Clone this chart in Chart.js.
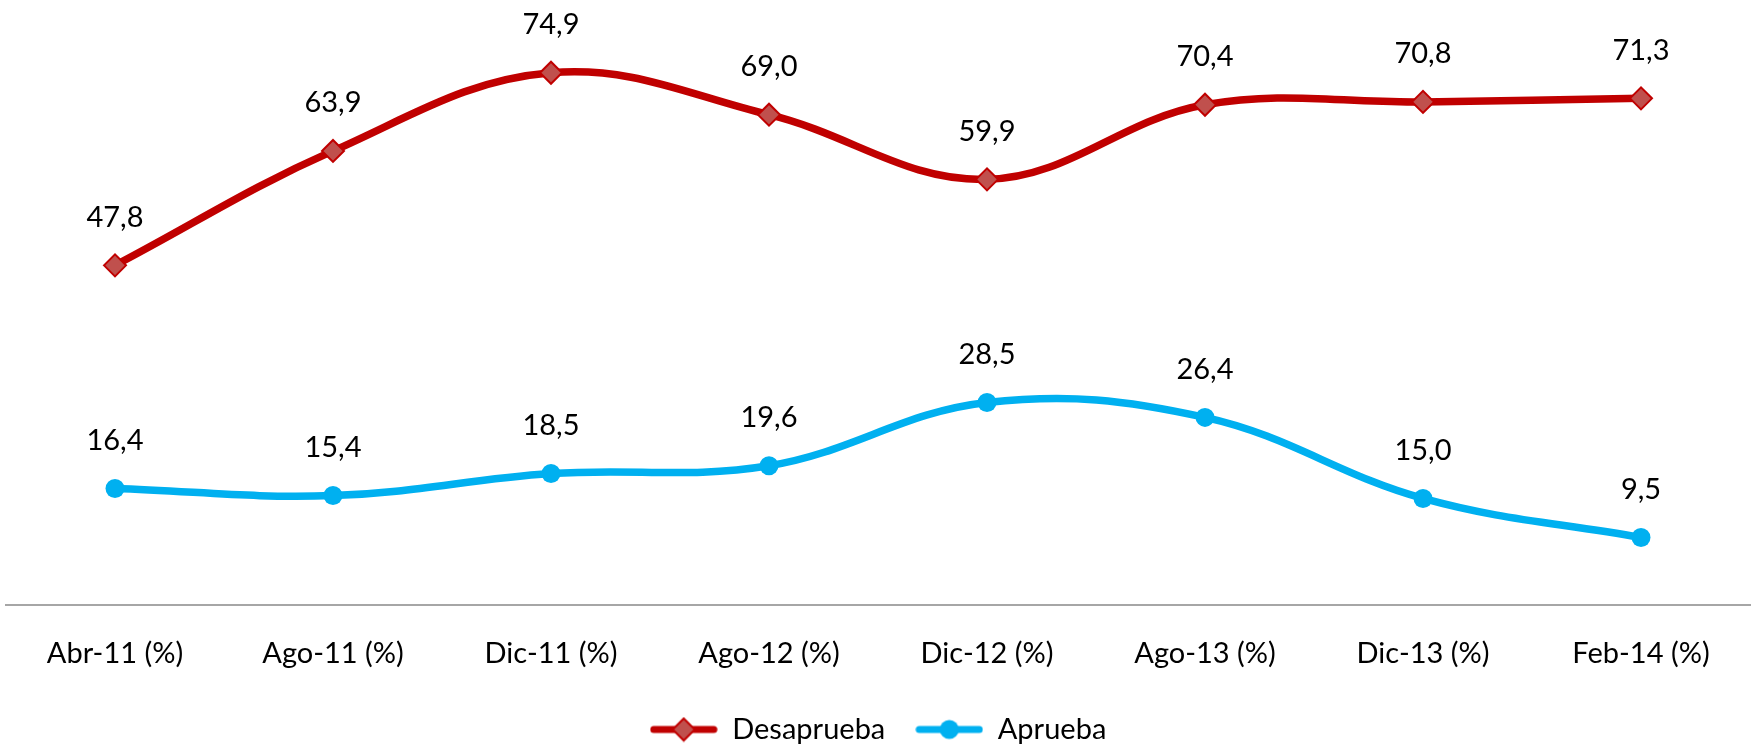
<!DOCTYPE html>
<html lang="es">
    <head>
        <meta charset="utf-8"/>
        <title>Desaprueba / Aprueba</title>
        <script src="https://cdn.jsdelivr.net/npm/chart.js"></script>
        <style type="text/css">
            html, body {
                margin: 0;
                padding: 0;
                background: #ffffff;
            }
            #wrap {
                width: 1757px;
                height: 746px;
            }
        </style>
    </head>
    <body>
        <div id="wrap">
            <canvas id="myChart" width="1757" height="746"></canvas>
        </div>

        <script>
            var meses = ['Abr-11 (%)', 'Ago-11 (%)', 'Dic-11 (%)', 'Ago-12 (%)', 'Dic-12 (%)', 'Ago-13 (%)', 'Dic-13 (%)', 'Feb-14 (%)'];
            var desaprueba = [47.8, 63.9, 74.9, 69.0, 59.9, 70.4, 70.8, 71.3];
            var aprueba = [16.4, 15.4, 18.5, 19.6, 28.5, 26.4, 15.0, 9.5];

            var rojo = '#C00000';
            var rojoRelleno = '#C0504D';
            var azul = '#00B0F0';
            var fuente = 'Lato, "Open Sans", sans-serif';

            // icono de leyenda: linea + marcador
            function iconoLeyenda(color, relleno, forma) {
                var c = document.createElement('canvas');
                c.width = 68;
                c.height = 26;
                var ctx = c.getContext('2d');
                ctx.strokeStyle = color;
                ctx.lineWidth = 7;
                ctx.lineCap = 'round';
                ctx.beginPath();
                ctx.moveTo(4, 13);
                ctx.lineTo(64, 13);
                ctx.stroke();
                if (forma === 'rombo') {
                    ctx.fillStyle = relleno;
                    ctx.lineWidth = 2;
                    ctx.beginPath();
                    ctx.moveTo(34, 2);
                    ctx.lineTo(45, 13);
                    ctx.lineTo(34, 24);
                    ctx.lineTo(23, 13);
                    ctx.closePath();
                    ctx.fill();
                    ctx.stroke();
                } else {
                    ctx.fillStyle = color;
                    ctx.beginPath();
                    ctx.arc(34, 13, 9.5, 0, Math.PI * 2);
                    ctx.fill();
                }
                return c;
            }

            var etiquetas = {
                id: 'etiquetas',
                afterDatasetsDraw: function(chart) {
                    var ctx = chart.ctx;
                    ctx.save();
                    ctx.font = '29px ' + fuente;
                    ctx.fillStyle = '#000000';
                    ctx.textAlign = 'center';
                    ctx.textBaseline = 'middle';
                    chart.data.datasets.forEach(function(ds, i) {
                        var meta = chart.getDatasetMeta(i);
                        meta.data.forEach(function(pt, j) {
                            var txt = ds.data[j].toFixed(1).replace('.', ',');
                            ctx.fillText(txt, pt.x, pt.y - 48);
                        });
                    });
                    ctx.restore();
                }
            };

            const data = {
                labels: meses,
                datasets: [{
                    label: 'Desaprueba',
                    data: desaprueba,
                    borderColor: rojo,
                    backgroundColor: rojoRelleno,
                    borderWidth: 7.5,
                    tension: 0.38,
                    pointStyle: 'rectRot',
                    pointRadius: 11,
                    pointBorderWidth: 2,
                    pointBorderColor: rojo,
                    pointBackgroundColor: rojoRelleno,
                    fill: false
                },
                {
                    label: 'Aprueba',
                    data: aprueba,
                    borderColor: azul,
                    backgroundColor: azul,
                    borderWidth: 7.5,
                    tension: 0.38,
                    pointStyle: 'circle',
                    pointRadius: 9.5,
                    pointBorderWidth: 0,
                    pointBackgroundColor: azul,
                    fill: false
                }]
            };

            var iconos = [iconoLeyenda(rojo, rojoRelleno, 'rombo'), iconoLeyenda(azul, azul, 'circulo')];

            const config = {
                type: 'line',
                data: data,
                plugins: [etiquetas],
                options: {
                    responsive: false,
                    animation: false,
                    clip: false,
                    layout: {
                        autoPadding: false,
                        padding: {left: 6, right: 7, top: 1, bottom: -8}
                    },
                    plugins: {
                        tooltip: {enabled: false},
                        legend: {
                            position: 'bottom',
                            labels: {
                                usePointStyle: true,
                                pointStyleWidth: 68,
                                padding: 30,
                                color: '#000000',
                                font: {family: fuente, size: 29},
                                generateLabels: function(chart) {
                                    return chart.data.datasets.map(function(ds, i) {
                                        return {
                                            text: ds.label,
                                            pointStyle: iconos[i],
                                            fillStyle: ds.borderColor,
                                            strokeStyle: ds.borderColor,
                                            lineWidth: 0,
                                            fontColor: '#000000',
                                            datasetIndex: i,
                                            hidden: false
                                        };
                                    });
                                }
                            }
                        }
                    },
                    scales: {
                        x: {
                            offset: true,
                            grid: {display: false, drawTicks: false},
                            border: {display: true, color: '#A6A6A6', width: 2},
                            ticks: {
                                padding: 31,
                                color: '#000000',
                                font: {family: fuente, size: 29},
                                maxRotation: 0,
                                autoSkip: false
                            },
                            afterFit: function(scale) {
                                scale.height = 80;
                            }
                        },
                        y: {
                            display: false,
                            min: 0,
                            max: 85
                        }
                    }
                }
            };

            const myChart = new Chart(document.getElementById('myChart'), config);
        </script>
    </body>
</html>
